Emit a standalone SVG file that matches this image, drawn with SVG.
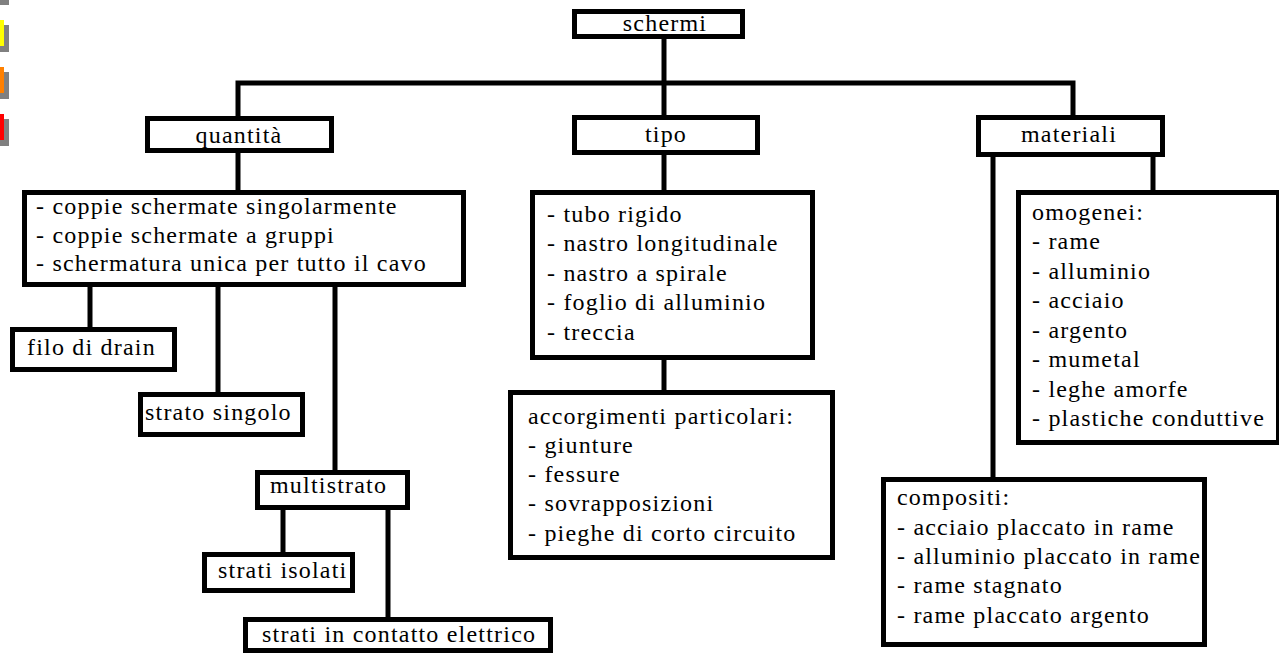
<svg xmlns="http://www.w3.org/2000/svg" width="1279" height="655" viewBox="0 0 1279 655">
<style>
.box{fill:#fff;stroke:#000;stroke-width:5}
.ln{fill:none;stroke:#000;stroke-width:5;stroke-linejoin:miter;stroke-linecap:butt}
</style>
<rect width="1279" height="655" fill="#fff"/>
<g id="buttons">
<rect x="0" y="-21" width="9" height="26" fill="#808080"/>
<rect x="0" y="25" width="9" height="27" fill="#808080"/>
<rect x="0" y="20" width="4" height="26" fill="#ffff00"/>
<rect x="0" y="72" width="9" height="27" fill="#808080"/>
<rect x="0" y="67" width="4" height="26" fill="#ff8000"/>
<rect x="0" y="119" width="9" height="27" fill="#808080"/>
<rect x="0" y="114" width="4" height="26" fill="#ff0000"/>
</g>
<g id="connectors">
<line class="ln" x1="664" y1="39" x2="664" y2="115"/>
<polyline class="ln" points="238,116 238,83 1073,83 1073,115"/>
<line class="ln" x1="238" y1="153" x2="238" y2="190"/>
<line class="ln" x1="90" y1="287" x2="90" y2="327"/>
<line class="ln" x1="218" y1="287" x2="218" y2="392"/>
<line class="ln" x1="335" y1="287" x2="335" y2="470"/>
<line class="ln" x1="283" y1="510" x2="283" y2="552"/>
<line class="ln" x1="388" y1="510" x2="388" y2="617"/>
<line class="ln" x1="664" y1="155" x2="664" y2="190"/>
<line class="ln" x1="664" y1="360" x2="664" y2="390"/>
<line class="ln" x1="993" y1="157" x2="993" y2="477"/>
<line class="ln" x1="1153" y1="157" x2="1153" y2="190"/>
</g>
<g font-family="Liberation Serif, serif" font-size="24" letter-spacing="1.2" fill="#000">
<g id="schermi">
<rect class="box" x="574.5" y="11.5" width="168" height="25"/>
<text text-anchor="middle" x="665" y="31">schermi</text>
</g>
<g id="quantita">
<rect class="box" x="147.5" y="118.5" width="184" height="32"/>
<text text-anchor="middle" x="239" y="143">quantità</text>
</g>
<g id="tipo">
<rect class="box" x="574.5" y="117.5" width="183" height="35"/>
<text text-anchor="middle" x="666" y="142">tipo</text>
</g>
<g id="materiali">
<rect class="box" x="978.5" y="117.5" width="184" height="37"/>
<text text-anchor="middle" x="1069" y="142">materiali</text>
</g>
<g id="quantita-list">
<rect class="box" x="24.5" y="192.5" width="439" height="92"/>
<text x="36" y="214">- coppie schermate singolarmente</text>
<text x="36" y="243">- coppie schermate a gruppi</text>
<text x="36" y="271">- schermatura unica per tutto il cavo</text>
</g>
<g id="filo-di-drain">
<rect class="box" x="12.5" y="329.5" width="162" height="40"/>
<text x="27" y="355">filo di drain</text>
</g>
<g id="strato-singolo">
<rect class="box" x="140.5" y="394.5" width="162" height="40"/>
<text x="145" y="420">strato singolo</text>
</g>
<g id="multistrato">
<rect class="box" x="257.5" y="472.5" width="150" height="35"/>
<text x="270" y="493">multistrato</text>
</g>
<g id="strati-isolati">
<rect class="box" x="204.5" y="554.5" width="148" height="36"/>
<text x="218" y="578">strati isolati</text>
</g>
<g id="strati-contatto">
<rect class="box" x="245.5" y="619.5" width="305" height="31"/>
<text x="262" y="642">strati in contatto elettrico</text>
</g>
<g id="tipo-list">
<rect class="box" x="532.5" y="192.5" width="280" height="165"/>
<text x="547" y="222">- tubo rigido</text>
<text x="547" y="251">- nastro longitudinale</text>
<text x="547" y="281">- nastro a spirale</text>
<text x="547" y="310">- foglio di alluminio</text>
<text x="547" y="340">- treccia</text>
</g>
<g id="accorgimenti">
<rect class="box" x="510.5" y="392.5" width="322" height="165"/>
<text x="528" y="424">accorgimenti particolari:</text>
<text x="528" y="453">- giunture</text>
<text x="528" y="482">- fessure</text>
<text x="528" y="511">- sovrapposizioni</text>
<text x="528" y="541">- pieghe di corto circuito</text>
</g>
<g id="omogenei">
<rect class="box" x="1018.5" y="192.5" width="260" height="250"/>
<text x="1032" y="220">omogenei:</text>
<text x="1032" y="249">- rame</text>
<text x="1032" y="279">- alluminio</text>
<text x="1032" y="308">- acciaio</text>
<text x="1032" y="338">- argento</text>
<text x="1032" y="367">- mumetal</text>
<text x="1032" y="397">- leghe amorfe</text>
<text x="1032" y="426">- plastiche conduttive</text>
</g>
<g id="compositi">
<rect class="box" x="883.5" y="479.5" width="321" height="165"/>
<text x="897" y="505">compositi:</text>
<text x="897" y="535">- acciaio placcato in rame</text>
<text x="897" y="564">- alluminio placcato in rame</text>
<text x="897" y="593">- rame stagnato</text>
<text x="897" y="623">- rame placcato argento</text>
</g>
</g>
</svg>
